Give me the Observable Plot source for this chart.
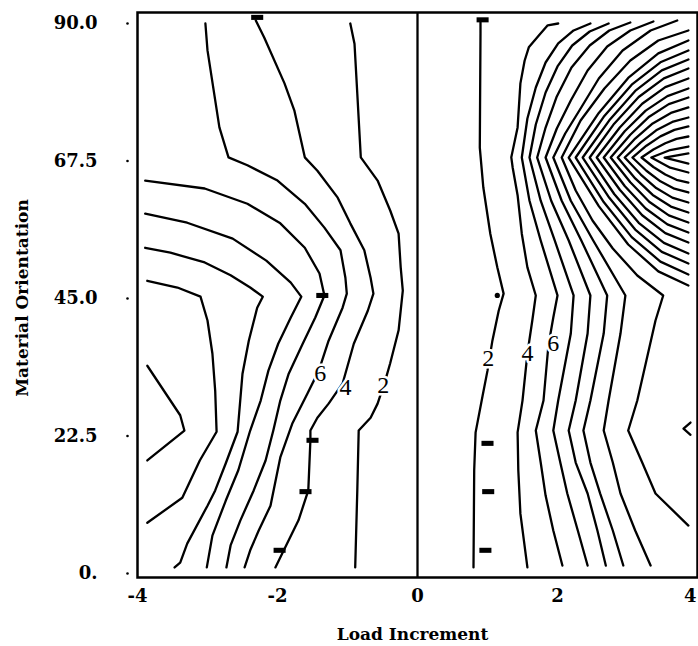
<!DOCTYPE html>
<html>
<head>
<meta charset="utf-8">
<script src="https://cdn.jsdelivr.net/npm/d3@7"></script>
<script src="https://cdn.jsdelivr.net/npm/@observablehq/plot@0.6"></script>
<style>
  html, body { margin: 0; padding: 0; background: #fff; }
  #chart { width: 698px; height: 646px; }
</style>
</head>
<body>
<div id="chart"></div>
<script>
// ---- axis ticks ----
const xTicks = [-4, -2, 0, 2, 4];
const xTickLabels = ["-4", "-2", "0", "2", "4"];
const yTicks = [0, 22.5, 45, 67.5, 90];
const yTickLabels = ["0.", "22.5", "45.0", "67.5", "90.0"];
const xTitle = "Load Increment";
const yTitle = "Material Orientation";

// ---- left half contour lines [load increment, orientation] ----
const leftNotch = [[-3.86,34.0],[-3.39,25.9],[-3.33,23.4],[-3.86,18.5]];
const leftA = [[-3.86,47.9],[-3.43,46.8],[-3.1,45.3],[-3.0,41.4],[-2.93,36.0],[-2.89,29.9],[-2.87,23.2],[-3.11,18.5],[-3.36,12.4],[-3.86,8.3]];
const leftB = [[-3.89,53.3],[-3.53,52.5],[-3.04,50.9],[-2.67,48.8],[-2.39,46.8],[-2.21,45.3],[-2.29,43.5],[-2.41,38.1],[-2.5,32.7],[-2.57,23.2],[-2.74,18.0],[-2.89,13.6],[-3.0,11.1],[-3.29,4.9],[-3.39,1.8],[-3.47,1.0]];
const leftC = [[-3.89,58.9],[-3.29,57.4],[-2.64,54.8],[-2.16,51.2],[-1.81,47.6],[-1.66,45.3],[-1.81,41.9],[-1.99,37.6],[-2.13,33.2],[-2.24,28.3],[-2.39,23.4],[-2.56,16.9],[-2.74,11.9],[-2.93,6.2],[-3.01,1.0]];
const leftD = [[-3.89,64.3],[-3.04,63.0],[-2.43,60.5],[-1.96,57.3],[-1.61,53.3],[-1.4,49.1],[-1.33,45.5],[-1.46,41.9],[-1.64,37.6],[-1.84,32.7],[-1.96,28.3],[-2.06,23.4],[-2.17,18.5],[-2.34,13.6],[-2.53,8.7],[-2.67,4.6],[-2.73,1.0]];
const left6 = [[-3.03,90.0],[-3.0,85.6],[-2.83,73.0],[-2.7,68.1],[-2.43,66.8],[-2.0,64.3],[-1.61,60.5],[-1.33,56.6],[-1.1,52.9],[-1.03,48.4],[-1.01,45.8],[-1.07,43.5],[-1.27,38.1],[-1.41,33.2],[-1.57,29.5],[-1.79,24.5],[-1.96,19.0],[-2.1,11.1],[-2.27,7.0],[-2.39,3.8],[-2.47,1.0]];
const left4 = [[-2.31,90.5],[-2.19,87.7],[-1.9,80.2],[-1.76,75.8],[-1.61,68.1],[-1.43,65.9],[-1.14,61.5],[-0.96,57.3],[-0.76,52.9],[-0.67,48.4],[-0.63,45.8],[-0.71,43.0],[-0.91,37.6],[-1.07,31.1],[-1.27,27.8],[-1.43,25.5],[-1.53,23.4],[-1.53,21.8],[-1.56,13.6],[-1.7,8.7],[-1.91,3.8],[-2.03,1.0]];
const left2 = [[-0.96,90.0],[-0.9,86.7],[-0.86,78.5],[-0.81,68.1],[-0.57,64.3],[-0.39,59.4],[-0.27,55.6],[-0.24,50.1],[-0.21,46.3],[-0.27,39.8],[-0.39,34.4],[-0.46,31.6],[-0.57,27.8],[-0.67,25.5],[-0.84,23.4],[-0.86,13.6],[-0.89,1.0]];

// ---- right half contour lines ----
const right2 = [[0.9,90.2],[0.9,88.4],[0.89,69.7],[0.94,63.2],[1.04,55.6],[1.14,50.1],[1.23,45.8],[1.16,43.0],[1.07,38.1],[1.0,33.2],[0.93,29.1],[0.83,23.1],[0.81,16.9],[0.8,1.0]];
const right4 = [[2.01,90.0],[1.86,89.7],[1.73,88.0],[1.59,86.1],[1.53,83.9],[1.47,80.2],[1.43,73.0],[1.36,69.2],[1.34,68.1],[1.36,66.4],[1.43,61.9],[1.49,55.6],[1.57,50.1],[1.69,45.5],[1.64,41.4],[1.57,36.0],[1.5,28.3],[1.43,23.1],[1.44,16.9],[1.47,9.8],[1.57,1.0]];
const right6 = [[2.47,90.0],[2.23,88.86],[2.01,86.73],[1.83,83.62],[1.69,79.53],[1.57,74.46],[1.49,68.07],[1.6,61.0],[1.76,54.5],[2.0,45.5],[1.94,41.89],[1.87,37.31],[1.8,28.31],[1.69,23.4],[1.76,18.16],[1.83,12.76],[1.94,7.04],[2.07,1.31]];
const right8 = [[2.73,90.0],[2.46,88.69],[2.21,86.4],[2.0,82.97],[1.83,78.71],[1.69,73.47],[1.6,68.07],[1.76,61.0],[1.96,54.5],[2.23,45.5],[2.19,39.27],[2.01,28.31],[1.94,23.4],[2.04,18.16],[2.14,13.09],[2.29,7.04],[2.43,1.31]];
const right10 = [[3.04,90.16],[2.74,88.86],[2.46,86.4],[2.2,82.8],[1.99,78.06],[1.83,72.98],[1.71,68.07],[1.91,61.0],[2.16,54.5],[2.47,45.5],[2.43,39.27],[2.26,28.31],[2.16,23.4],[2.26,18.16],[2.43,13.09],[2.57,7.04],[2.69,1.31]];
const right12 = [[3.37,90.33],[3.04,88.86],[2.71,86.24],[2.43,82.31],[2.19,77.4],[1.99,72.82],[1.83,68.07],[2.06,61.0],[2.34,54.5],[2.71,45.5],[2.66,39.27],[2.47,28.31],[2.37,23.4],[2.47,18.16],[2.61,13.09],[2.79,7.04],[2.94,1.31]];
const right14 = [[3.71,90.49],[3.33,88.86],[2.93,85.58],[2.59,81.0],[2.33,76.09],[2.11,72.0],[1.94,68.07],[2.19,61.0],[2.51,54.5],[2.97,45.5],[2.9,39.27],[2.73,28.31],[2.66,23.4],[2.79,18.16],[2.9,13.09],[3.11,7.04],[3.33,1.31]];
const right16 = [[3.87,88.86],[3.44,87.22],[3.04,83.95],[2.67,79.37],[2.33,74.12],[2.06,68.07],[2.26,62.67],[2.5,57.76],[2.79,53.18],[3.14,48.76],[3.51,45.49],[3.4,41.4],[3.27,34.86],[3.14,28.31],[3.01,23.4],[3.21,18.16],[3.4,13.09],[3.87,7.85]];
const right18 = [[3.87,87.22],[3.44,85.11],[3.01,81.1],[2.59,75.36],[2.16,68.07],[2.59,60.12],[3.01,53.84],[3.44,49.44],[3.87,47.13]];
const right20 = [[3.87,85.58],[3.47,83.65],[3.06,79.99],[2.66,74.73],[2.26,68.07],[2.66,60.79],[3.06,55.05],[3.47,51.04],[3.87,48.93]];
const right22 = [[3.87,84.11],[3.49,82.34],[3.11,78.97],[2.74,74.16],[2.36,68.07],[2.74,61.48],[3.11,56.28],[3.49,52.64],[3.87,50.73]];
const right24 = [[3.87,82.64],[3.52,81.03],[3.16,77.97],[2.81,73.61],[2.46,68.07],[2.81,62.1],[3.16,57.39],[3.52,54.1],[3.87,52.36]];
const right26 = [[3.87,81.0],[3.54,79.58],[3.21,76.86],[2.89,72.98],[2.56,68.07],[2.89,62.79],[3.21,58.62],[3.54,55.69],[3.87,54.16]];
const right28 = [[3.87,79.37],[3.57,78.12],[3.26,75.75],[2.96,72.36],[2.66,68.07],[2.96,63.41],[3.26,59.73],[3.57,57.14],[3.87,55.8]];
const right30 = [[3.87,77.89],[3.59,76.81],[3.31,74.75],[3.04,71.8],[2.76,68.07],[3.04,64.03],[3.31,60.84],[3.59,58.6],[3.87,57.44]];
const right32 = [[3.87,76.26],[3.62,75.36],[3.36,73.64],[3.11,71.18],[2.86,68.07],[3.11,64.65],[3.36,61.95],[3.62,60.05],[3.87,59.07]];
const right34 = [[3.87,74.62],[3.64,73.9],[3.41,72.52],[3.19,70.56],[2.96,68.07],[3.19,65.28],[3.41,63.07],[3.64,61.51],[3.87,60.71]];
const right36 = [[3.87,73.15],[3.67,72.59],[3.47,71.53],[3.27,70.0],[3.07,68.07],[3.27,65.9],[3.47,64.18],[3.67,62.97],[3.87,62.35]];
const right38 = [[3.87,71.51],[3.7,71.13],[3.54,70.41],[3.37,69.38],[3.2,68.07],[3.37,66.52],[3.54,65.29],[3.7,64.42],[3.87,63.98]];
const right40 = [[3.87,69.87],[3.61,69.3],[3.34,68.07],[3.61,66.41],[3.87,65.62]];
const right42 = [[3.87,68.73],[3.53,68.07],[3.87,67.09]];
const rightNotch = [[3.9,24.7],[3.8,23.7],[3.9,22.7]];

// ---- contour level labels ----
const labelText = ["6", "4", "2", "2", "4", "6"];
const labelX = [-1.39, -1.03, -0.49, 1.01, 1.57, 1.94];
const labelY = [32.7, 30.4, 30.8, 35.2, 36.0, 37.6];

// ---- measurement markers ----
const barX = [-2.29, -1.36, -1.5, -1.6, -1.97, 0.93, 1.0, 1.01, 0.97];
const barY = [91.0, 45.5, 21.8, 13.4, 3.8, 90.6, 21.3, 13.4, 3.8];
const dotX = [1.14];
const dotY = [45.5];

// ---------------------------------------------------------------
const contours = [leftNotch, leftA, leftB, leftC, leftD, left6, left4, left2,
  right2, right4, right6, right8, right10, right12, right14, right16, right18,
  right20, right22, right24, right26, right28, right30, right32, right34,
  right36, right38, right40, right42, rightNotch];

const labels = labelText.map((t, i) => ({t, x: labelX[i], y: labelY[i]}));
const bars = barX.map((x, i) => ({x, y: barY[i]}));
const dots = dotX.map((x, i) => ({x, y: dotY[i]}));

const barSymbol = {
  draw(ctx, size) {
    const s = Math.sqrt(size);
    const h = s * 0.42;
    ctx.moveTo(-s, -h); ctx.lineTo(s, -h); ctx.lineTo(s, h); ctx.lineTo(-s, h); ctx.closePath();
  }
};

const serif = "'DejaVu Serif', 'Liberation Serif', serif";
const xLabelFor = d => xTickLabels[xTicks.indexOf(d)];

const chart = Plot.plot({
  width: 698,
  height: 646,
  marginLeft: 137,
  marginRight: 1,
  marginTop: 12,
  marginBottom: 69,
  style: {fontFamily: serif, fontWeight: "bold", fontSize: "18px", background: "white", color: "black"},
  x: {domain: [-4, 4], axis: null},
  y: {domain: [-0.65, 91.8], ticks: yTicks, tickFormat: d => yTickLabels[yTicks.indexOf(d)], tickSize: 0, tickPadding: 40, label: null},
  marks: [
    ...contours.map(pts => Plot.line(pts, {x: d => d[0], y: d => d[1], stroke: "black", strokeWidth: 2.3, strokeLinejoin: "round", strokeLinecap: "round"})),
    Plot.ruleX([0], {stroke: "black", strokeWidth: 2.3}),
    Plot.text(labels, {x: "x", y: "y", text: "t", fontFamily: "'Liberation Serif', serif", fontWeight: "normal", fontSize: 24, fill: "black", stroke: "white", strokeWidth: 5, paintOrder: "stroke"}),
    Plot.dot(bars, {x: "x", y: "y", symbol: barSymbol, r: 3.4, fill: "black", stroke: "none"}),
    Plot.dot(dots, {x: "x", y: "y", r: 2.6, fill: "black", stroke: "none"}),
    Plot.dot(yTicks, {y: d => d, frameAnchor: "left", dx: -10, r: 1.3, fill: "black", stroke: "none"}),
    Plot.frame({stroke: "black", strokeWidth: 2.5}),
    // x tick labels
    Plot.text(xTicks.slice(0, -1), {x: d => d, text: xLabelFor, frameAnchor: "bottom", lineAnchor: "top", dy: 12, fontSize: 18, fontWeight: "bold", fontFamily: serif}),
    Plot.text(xTicks.slice(-1), {x: d => d, text: xLabelFor, frameAnchor: "bottom", lineAnchor: "top", dy: 12, textAnchor: "end", dx: -1, fontSize: 18, fontWeight: "bold", fontFamily: serif}),
    // axis titles
    Plot.text([xTitle], {frameAnchor: "bottom", textAnchor: "middle", lineAnchor: "middle", dy: 57, dx: -5, fontSize: 17, fontWeight: "bold", fontFamily: serif}),
    Plot.text([yTitle], {frameAnchor: "left", textAnchor: "middle", lineAnchor: "middle", dx: -115, dy: 3, rotate: -90, fontSize: 17, fontWeight: "bold", fontFamily: serif})
  ]
});
document.getElementById("chart").appendChild(chart);
</script>
</body>
</html>
